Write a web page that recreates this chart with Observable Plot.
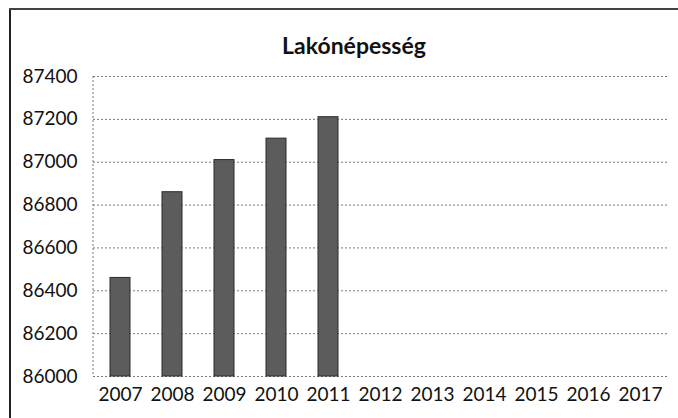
<!DOCTYPE html>
<html><head><meta charset="utf-8">
<script src="https://cdn.jsdelivr.net/npm/d3@7"></script>
<script src="https://cdn.jsdelivr.net/npm/@observablehq/plot@0.6"></script>
<style>
html,body{margin:0;background:#fff;overflow:hidden;}
#wrap{position:relative;width:678px;height:418px;overflow:hidden;font-family:Lato,"Open Sans",sans-serif;}
#frameL{position:absolute;left:9px;top:8px;width:2px;height:410px;background:#222;}
#frameT{position:absolute;left:9px;top:8px;width:669px;height:2px;background:#444;}
#title{position:absolute;top:31px;left:254px;width:200px;text-align:center;font-weight:bold;font-size:23px;color:#111;}
#chart{position:absolute;left:0;top:0;}
</style></head><body>
<div id="wrap"><div id="frameL"></div><div id="frameT"></div><div id="chart"></div><div id="title">Lakónépesség</div></div>
<script>
const years = ["2007","2008","2009","2010","2011","2012","2013","2014","2015","2016","2017"];
const population = [86460, 86860, 87010, 87110, 87210];
const yTicks = [86000, 86200, 86400, 86600, 86800, 87000, 87200, 87400];

const data = population.map((v, i) => ({year: years[i], value: v}));

// dotted left axis line drawn at the plot's left edge
function leftAxisLine(index, scales, values, dims) {
  const svg = d3.create("svg:g");
  svg.append("line")
    .attr("x1", dims.marginLeft).attr("x2", dims.marginLeft)
    .attr("y1", dims.marginTop).attr("y2", dims.height - dims.marginBottom)
    .attr("stroke", "#777").attr("stroke-dasharray", "2,2");
  return svg.node();
}

const chart = Plot.plot({
  width: 678, height: 418,
  marginLeft: 93, marginRight: 11, marginTop: 76, marginBottom: 42,
  style: {fontFamily: "Lato, 'Open Sans', sans-serif", fontSize: "19px", color: "#111", background: "transparent", overflow: "visible"},
  x: {domain: years, paddingInner: 0.62, paddingOuter: 0.31, label: null, tickSize: 0, tickPadding: 11},
  y: {domain: [86000, 87400], ticks: yTicks, tickFormat: d => String(d), label: null, tickSize: 0, tickPadding: 16},
  marks: [
    Plot.ruleY(yTicks, {stroke: "#777", strokeDasharray: "2,2", strokeWidth: 1}),
    leftAxisLine,
    Plot.barY(data, {x: "year", y1: 86000, y2: "value", fill: "#5c5c5c", stroke: "#2a2a2a", strokeWidth: 1})
  ]
});
document.getElementById("chart").appendChild(chart);
</script>
</body></html>
